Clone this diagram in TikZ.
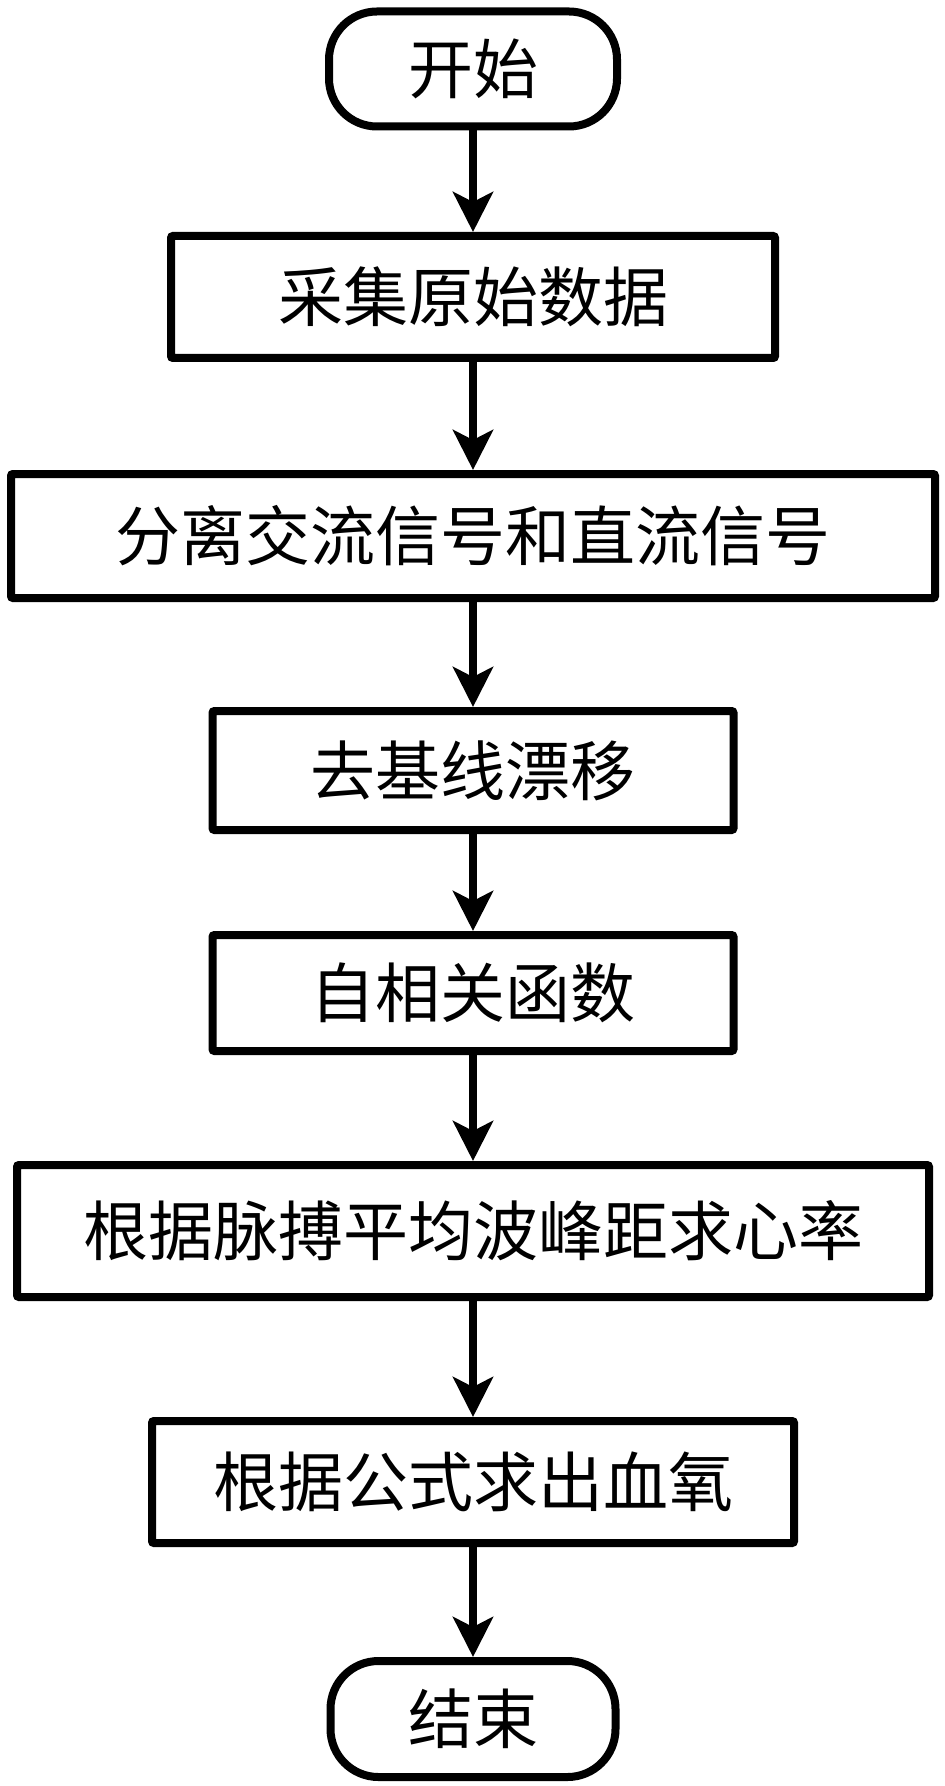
\documentclass[tikz,border=0pt]{standalone}
\usepackage{fontspec}
\newfontfamily\cjk{Noto Sans CJK SC}
\usetikzlibrary{arrows.meta}

\tikzset{
    box/.style={draw, line width=4pt, inner sep=0pt, align=center,
        font=\cjk\fontsize{32.5}{36}\selectfont},
    terminal/.style={box, rounded corners=24pt},
    process/.style={box, rounded corners=1pt},
    flowarrow/.style={line width=4pt, -{Stealth[length=20pt, width=20pt, inset=5pt]}}
}

\begin{document}
\begin{tikzpicture}[x=0.5pt, y=0.5pt]
    \useasboundingbox (0,0) rectangle (945,-1786);
    % Start and end
    \node[terminal, minimum width=144pt, minimum height=57.5pt] (start) at (473,-69) {开始};
    % Processing steps
    \node[process, minimum width=302pt, minimum height=61pt] (collect) at (473,-297) {采集原始数据};
    \node[process, minimum width=462pt, minimum height=62pt] (split) at (473,-536) {分离交流信号和直流信号};
    \node[process, minimum width=260.5pt, minimum height=59.5pt] (baseline) at (473,-770.5) {去基线漂移};
    \node[process, minimum width=260.5pt, minimum height=58pt] (autocorr) at (473,-993) {自相关函数};
    \node[process, minimum width=456pt, minimum height=66pt] (heartrate) at (473,-1231) {根据脉搏平均波峰距求心率};
    \node[process, minimum width=321pt, minimum height=61pt] (oxygen) at (473,-1482) {根据公式求出血氧};
    \node[terminal, minimum width=142.5pt, minimum height=58pt] (stop) at (473,-1719) {结束};
    % Arrows
    \foreach \a/\b in {start/collect, collect/split, split/baseline, baseline/autocorr,
                       autocorr/heartrate, heartrate/oxygen, oxygen/stop} {
        \draw[flowarrow] (\a.south) -- (\b.north);
    }
\end{tikzpicture}
\end{document}
